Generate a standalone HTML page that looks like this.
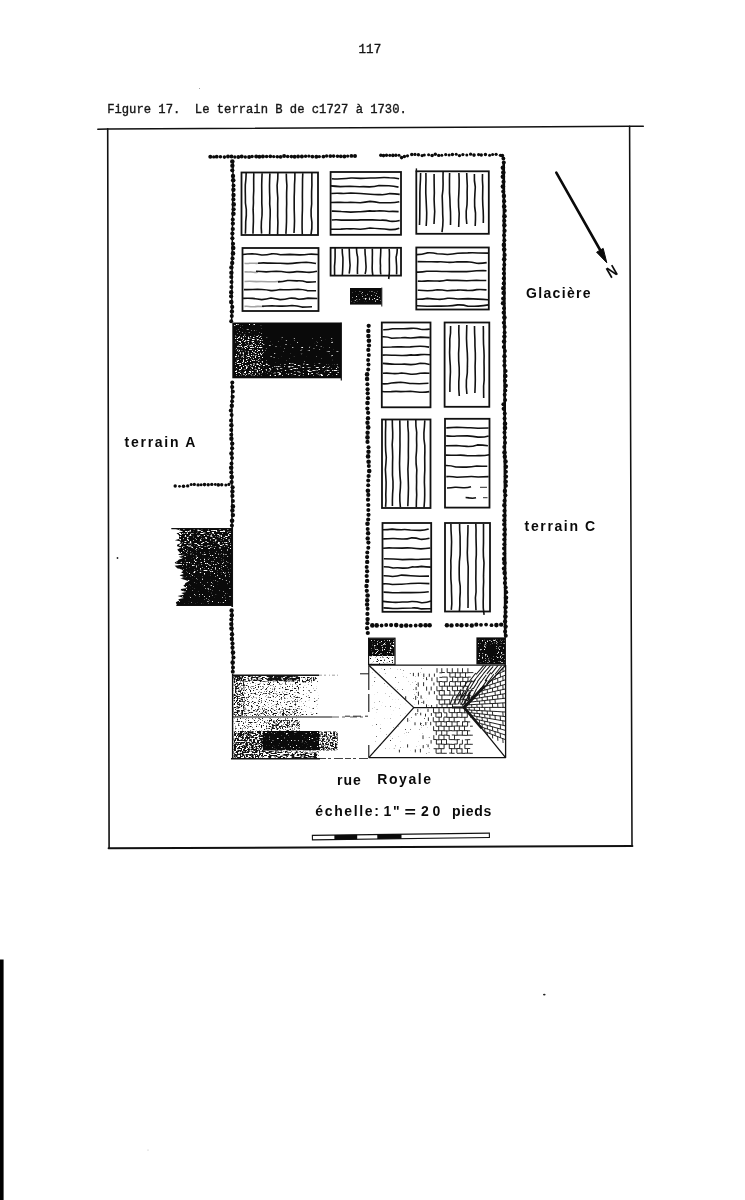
<!DOCTYPE html>
<html lang="fr"><head><meta charset="utf-8"><title>Figure 17. Le terrain B de c1727 à 1730</title>
<style>
html,body{margin:0;padding:0;background:#fff;}
body{width:745px;height:1200px;overflow:hidden;position:relative;font-family:"Liberation Sans",sans-serif;}
svg{position:absolute;left:0;top:0;display:block;filter:blur(.32px);}
text{opacity:.999;}
.tw{font-family:"Liberation Mono",monospace;font-size:13.6px;white-space:pre;fill:#151515;stroke:#151515;stroke-width:.38;}
.lb{font-family:"Liberation Sans",sans-serif;font-size:14px;white-space:pre;font-weight:bold;fill:#0a0a0a;}
</style></head><body>
<svg width="745" height="1200" viewBox="0 0 745 1200">
<defs><filter id="g1" x="0" y="0" width="100%" height="100%" color-interpolation-filters="sRGB"><feTurbulence type="fractalNoise" baseFrequency="0.572 0.875" numOctaves="2" seed="59"/><feColorMatrix type="matrix" values="0 0 0 0 0 0 0 0 0 0 0 0 0 0 0 0 0 0 7 -3.75"/><feComposite in="SourceGraphic" operator="in"/></filter><filter id="g2" x="0" y="0" width="100%" height="100%" color-interpolation-filters="sRGB"><feTurbulence type="fractalNoise" baseFrequency="0.312 0.95" numOctaves="2" seed="60"/><feColorMatrix type="matrix" values="0 0 0 0 0 0 0 0 0 0 0 0 0 0 0 0 0 0 7 -4.08"/><feComposite in="SourceGraphic" operator="in"/></filter><filter id="g3" x="0" y="0" width="100%" height="100%" color-interpolation-filters="sRGB"><feTurbulence type="fractalNoise" baseFrequency="0.26 0.95" numOctaves="2" seed="1"/><feColorMatrix type="matrix" values="0 0 0 0 0 0 0 0 0 0 0 0 0 0 0 0 0 0 7 -4.78"/><feComposite in="SourceGraphic" operator="in"/></filter><filter id="g4" x="0" y="0" width="100%" height="100%" color-interpolation-filters="sRGB"><feTurbulence type="fractalNoise" baseFrequency="0.52 0.875" numOctaves="2" seed="28"/><feColorMatrix type="matrix" values="0 0 0 0 0 0 0 0 0 0 0 0 0 0 0 0 0 0 7 -4.46"/><feComposite in="SourceGraphic" operator="in"/></filter><filter id="g5" x="0" y="0" width="100%" height="100%" color-interpolation-filters="sRGB"><feTurbulence type="fractalNoise" baseFrequency="0.52 0.875" numOctaves="2" seed="90"/><feColorMatrix type="matrix" values="0 0 0 0 0 0 0 0 0 0 0 0 0 0 0 0 0 0 7 -4.28"/><feComposite in="SourceGraphic" operator="in"/></filter><filter id="g6" x="0" y="0" width="100%" height="100%" color-interpolation-filters="sRGB"><feTurbulence type="fractalNoise" baseFrequency="0.39 0.95" numOctaves="2" seed="81"/><feColorMatrix type="matrix" values="0 0 0 0 0 0 0 0 0 0 0 0 0 0 0 0 0 0 7 -3.83"/><feComposite in="SourceGraphic" operator="in"/></filter><filter id="g7" x="0" y="0" width="100%" height="100%" color-interpolation-filters="sRGB"><feTurbulence type="fractalNoise" baseFrequency="0.52 0.875" numOctaves="2" seed="32"/><feColorMatrix type="matrix" values="0 0 0 0 0 0 0 0 0 0 0 0 0 0 0 0 0 0 7 -4.23"/><feComposite in="SourceGraphic" operator="in"/></filter><filter id="g8" x="0" y="0" width="100%" height="100%" color-interpolation-filters="sRGB"><feTurbulence type="fractalNoise" baseFrequency="0.52 0.875" numOctaves="2" seed="32"/><feColorMatrix type="matrix" values="0 0 0 0 0 0 0 0 0 0 0 0 0 0 0 0 0 0 7 -4.65"/><feComposite in="SourceGraphic" operator="in"/></filter><filter id="g9" x="0" y="0" width="100%" height="100%" color-interpolation-filters="sRGB"><feTurbulence type="fractalNoise" baseFrequency="0.62 0.75" numOctaves="2" seed="4"/><feColorMatrix type="matrix" values="0 0 0 0 0 0 0 0 0 0 0 0 0 0 0 0 0 0 7 -4.11"/><feComposite in="SourceGraphic" operator="in"/></filter><filter id="g10" x="0" y="0" width="100%" height="100%" color-interpolation-filters="sRGB"><feTurbulence type="fractalNoise" baseFrequency="0.62 0.75" numOctaves="2" seed="33"/><feColorMatrix type="matrix" values="0 0 0 0 0 0 0 0 0 0 0 0 0 0 0 0 0 0 7 -4.11"/><feComposite in="SourceGraphic" operator="in"/></filter><filter id="g11" x="0" y="0" width="100%" height="100%" color-interpolation-filters="sRGB"><feTurbulence type="fractalNoise" baseFrequency="0.62 0.625" numOctaves="2" seed="70"/><feColorMatrix type="matrix" values="0 0 0 0 0 0 0 0 0 0 0 0 0 0 0 0 0 0 7 -4.08"/><feComposite in="SourceGraphic" operator="in"/></filter><filter id="g12" x="0" y="0" width="100%" height="100%" color-interpolation-filters="sRGB"><feTurbulence type="fractalNoise" baseFrequency="0.62 0.625" numOctaves="2" seed="87"/><feColorMatrix type="matrix" values="0 0 0 0 0 0 0 0 0 0 0 0 0 0 0 0 0 0 7 -3.1"/><feComposite in="SourceGraphic" operator="in"/></filter><filter id="g13" x="0" y="0" width="100%" height="100%" color-interpolation-filters="sRGB"><feTurbulence type="fractalNoise" baseFrequency="0.39 0.75" numOctaves="2" seed="78"/><feColorMatrix type="matrix" values="0 0 0 0 0 0 0 0 0 0 0 0 0 0 0 0 0 0 7 -3.1"/><feComposite in="SourceGraphic" operator="in"/></filter><filter id="g14" x="0" y="0" width="100%" height="100%" color-interpolation-filters="sRGB"><feTurbulence type="fractalNoise" baseFrequency="0.26 0.625" numOctaves="2" seed="8"/><feColorMatrix type="matrix" values="0 0 0 0 0 0 0 0 0 0 0 0 0 0 0 0 0 0 7 -2.54"/><feComposite in="SourceGraphic" operator="in"/></filter><filter id="g15" x="0" y="0" width="100%" height="100%" color-interpolation-filters="sRGB"><feTurbulence type="fractalNoise" baseFrequency="0.62 0.75" numOctaves="2" seed="96"/><feColorMatrix type="matrix" values="0 0 0 0 0 0 0 0 0 0 0 0 0 0 0 0 0 0 7 -3.97"/><feComposite in="SourceGraphic" operator="in"/></filter><filter id="g16" x="0" y="0" width="100%" height="100%" color-interpolation-filters="sRGB"><feTurbulence type="fractalNoise" baseFrequency="0.62 0.75" numOctaves="2" seed="26"/><feColorMatrix type="matrix" values="0 0 0 0 0 0 0 0 0 0 0 0 0 0 0 0 0 0 7 -4.51"/><feComposite in="SourceGraphic" operator="in"/></filter><filter id="g17" x="0" y="0" width="100%" height="100%" color-interpolation-filters="sRGB"><feTurbulence type="fractalNoise" baseFrequency="0.52 0.75" numOctaves="2" seed="43"/><feColorMatrix type="matrix" values="0 0 0 0 0 0 0 0 0 0 0 0 0 0 0 0 0 0 7 -3.32"/><feComposite in="SourceGraphic" operator="in"/></filter><filter id="g18" x="0" y="0" width="100%" height="100%" color-interpolation-filters="sRGB"><feTurbulence type="fractalNoise" baseFrequency="0.52 0.75" numOctaves="2" seed="75"/><feColorMatrix type="matrix" values="0 0 0 0 0 0 0 0 0 0 0 0 0 0 0 0 0 0 7 -3.54"/><feComposite in="SourceGraphic" operator="in"/></filter><filter id="g19" x="0" y="0" width="100%" height="100%" color-interpolation-filters="sRGB"><feTurbulence type="fractalNoise" baseFrequency="0.62 0.75" numOctaves="2" seed="90"/><feColorMatrix type="matrix" values="0 0 0 0 0 0 0 0 0 0 0 0 0 0 0 0 0 0 7 -3.97"/><feComposite in="SourceGraphic" operator="in"/></filter><filter id="g20" x="0" y="0" width="100%" height="100%" color-interpolation-filters="sRGB"><feTurbulence type="fractalNoise" baseFrequency="0.62 0.625" numOctaves="2" seed="16"/><feColorMatrix type="matrix" values="0 0 0 0 0 0 0 0 0 0 0 0 0 0 0 0 0 0 7 -3.42"/><feComposite in="SourceGraphic" operator="in"/></filter><filter id="g21" x="0" y="0" width="100%" height="100%" color-interpolation-filters="sRGB"><feTurbulence type="fractalNoise" baseFrequency="0.52 0.75" numOctaves="2" seed="67"/><feColorMatrix type="matrix" values="0 0 0 0 0 0 0 0 0 0 0 0 0 0 0 0 0 0 7 -2.76"/><feComposite in="SourceGraphic" operator="in"/></filter><filter id="g22" x="0" y="0" width="100%" height="100%" color-interpolation-filters="sRGB"><feTurbulence type="fractalNoise" baseFrequency="0.52 0.875" numOctaves="2" seed="79"/><feColorMatrix type="matrix" values="0 0 0 0 0 0 0 0 0 0 0 0 0 0 0 0 0 0 7 -4.51"/><feComposite in="SourceGraphic" operator="in"/></filter><filter id="g23" x="0" y="0" width="100%" height="100%" color-interpolation-filters="sRGB"><feTurbulence type="fractalNoise" baseFrequency="0.62 0.625" numOctaves="2" seed="61"/><feColorMatrix type="matrix" values="0 0 0 0 0 0 0 0 0 0 0 0 0 0 0 0 0 0 7 -2.94"/><feComposite in="SourceGraphic" operator="in"/></filter><filter id="g24" x="0" y="0" width="100%" height="100%" color-interpolation-filters="sRGB"><feTurbulence type="fractalNoise" baseFrequency="0.312 0.875" numOctaves="2" seed="74"/><feColorMatrix type="matrix" values="0 0 0 0 0 0 0 0 0 0 0 0 0 0 0 0 0 0 7 -2.94"/><feComposite in="SourceGraphic" operator="in"/></filter><filter id="g25" x="0" y="0" width="100%" height="100%" color-interpolation-filters="sRGB"><feTurbulence type="fractalNoise" baseFrequency="0.26 0.75" numOctaves="2" seed="11"/><feColorMatrix type="matrix" values="0 0 0 0 0 0 0 0 0 0 0 0 0 0 0 0 0 0 7 -2.99"/><feComposite in="SourceGraphic" operator="in"/></filter><clipPath id="cTop"><path d="M368.8 665.2 L505.4 665.2 L463.8 707.4 L413.5 707.4 Z"/></clipPath><clipPath id="cBot"><path d="M413.5 707.4 L463.8 707.4 L505.4 757.6 L368.8 757.6 Z"/></clipPath><clipPath id="cRgt"><path d="M505.4 665.2 L505.4 757.6 L463.8 707.4 Z"/></clipPath><filter id="g26" x="0" y="0" width="100%" height="100%" color-interpolation-filters="sRGB"><feTurbulence type="fractalNoise" baseFrequency="0.62 0.75" numOctaves="2" seed="68"/><feColorMatrix type="matrix" values="0 0 0 0 0 0 0 0 0 0 0 0 0 0 0 0 0 0 7 -5.04"/><feComposite in="SourceGraphic" operator="in"/></filter></defs>
<rect x="0" y="0" width="745" height="1200" fill="#fff"/>
<rect x="0" y="959.5" width="3.6" height="241" fill="#000"/>
<text class="tw" x="358.6" y="52.9" textLength="22.6" lengthAdjust="spacingAndGlyphs">117</text>
<text class="tw" x="107.2" y="113.3" xml:space="preserve" textLength="299.6" lengthAdjust="spacingAndGlyphs">Figure 17.  Le terrain B de c1727 à 1730.</text>
<g stroke="#111" fill="none" stroke-linecap="round">
<path d="M97.8 129.2 L107.7 128.9 L629.6 126.3 L643.3 126.3" stroke-width="1.5"/>
<path d="M107.7 128.9 L109.1 848.3" stroke-width="1.6"/>
<path d="M629.6 126.3 L632 846" stroke-width="1.55"/>
<path d="M108.6 848.3 L632.4 846" stroke-width="2"/>
</g>
<g fill="#0b0b0b">
<circle cx="210.3" cy="156.7" r="2"/><circle cx="213.7" cy="156.9" r="1.7"/><circle cx="216.7" cy="156.7" r="1.9"/><circle cx="220.4" cy="156.8" r="1.8"/><circle cx="224.4" cy="157.1" r="1.8"/><circle cx="228" cy="156.4" r="2"/><circle cx="231.5" cy="156.5" r="1.9"/><circle cx="234.8" cy="157" r="1.7"/><circle cx="238.3" cy="157" r="1.9"/><circle cx="241.7" cy="156.4" r="2"/><circle cx="245.3" cy="157" r="1.7"/><circle cx="249.1" cy="156.9" r="2"/><circle cx="252.1" cy="156.5" r="1.7"/><circle cx="256.2" cy="156.5" r="2"/><circle cx="259.4" cy="156.8" r="2"/><circle cx="262.9" cy="156.6" r="2"/><circle cx="266.6" cy="156.5" r="1.8"/><circle cx="270.3" cy="156.3" r="1.9"/><circle cx="273.7" cy="156.6" r="1.7"/><circle cx="277.3" cy="156.8" r="1.8"/><circle cx="280.6" cy="156.8" r="1.9"/><circle cx="284.1" cy="156.1" r="2"/><circle cx="287.7" cy="156.5" r="1.8"/><circle cx="291.4" cy="156.6" r="1.8"/><circle cx="294.6" cy="156.8" r="2"/><circle cx="298.1" cy="156.5" r="1.9"/><circle cx="301.9" cy="156.6" r="2"/><circle cx="305.6" cy="156.3" r="1.7"/><circle cx="308.9" cy="156.1" r="1.7"/><circle cx="312.4" cy="156.6" r="1.9"/><circle cx="316.3" cy="156.7" r="2"/><circle cx="319.3" cy="156.6" r="1.7"/><circle cx="323.4" cy="156.6" r="1.9"/><circle cx="326.6" cy="156" r="1.7"/><circle cx="330.3" cy="156.1" r="1.9"/><circle cx="333.6" cy="156.1" r="1.8"/><circle cx="337.5" cy="156.3" r="1.8"/><circle cx="340.8" cy="156.3" r="1.9"/><circle cx="344.4" cy="156.6" r="2"/><circle cx="347.7" cy="156.1" r="1.7"/><circle cx="351.4" cy="155.9" r="1.9"/><circle cx="355" cy="156.1" r="2"/>
<circle cx="380.8" cy="155.3" r="1.7"/><circle cx="383.5" cy="155.6" r="1.8"/><circle cx="386.5" cy="155.2" r="1.7"/><circle cx="389.8" cy="155.3" r="1.6"/><circle cx="392.9" cy="155.4" r="1.8"/><circle cx="395.9" cy="155.3" r="1.7"/><circle cx="399" cy="155.3" r="1.5"/>
<circle cx="401.6" cy="157.6" r="1.8"/><circle cx="404.4" cy="156.5" r="1.7"/>
<circle cx="407.5" cy="155.8" r="1.6"/><circle cx="411.8" cy="154.5" r="1.8"/><circle cx="415" cy="154.4" r="1.6"/><circle cx="418.4" cy="154.7" r="1.7"/><circle cx="422.1" cy="155.6" r="1.6"/><circle cx="424.3" cy="155.1" r="1.5"/><circle cx="428.6" cy="154.7" r="1.5"/><circle cx="432.1" cy="155.5" r="1.8"/><circle cx="435.3" cy="154.2" r="1.7"/><circle cx="438.7" cy="155.4" r="1.7"/><circle cx="441.8" cy="155.3" r="1.5"/><circle cx="445.7" cy="154.6" r="1.6"/><circle cx="449.1" cy="154.9" r="1.5"/><circle cx="452.4" cy="154.5" r="1.7"/><circle cx="456.2" cy="154.3" r="1.5"/><circle cx="459.5" cy="155.6" r="1.7"/>
<circle cx="462.9" cy="154.6" r="1.6"/><circle cx="466.8" cy="155" r="1.5"/><circle cx="470.6" cy="154.2" r="1.6"/><circle cx="474" cy="155.1" r="1.8"/><circle cx="478.6" cy="154.6" r="1.6"/><circle cx="481.3" cy="155" r="1.7"/><circle cx="485.4" cy="154.5" r="1.7"/><circle cx="489.6" cy="155.2" r="1.5"/><circle cx="492.6" cy="154.4" r="1.5"/><circle cx="496.1" cy="154.3" r="1.6"/><circle cx="500.4" cy="155.3" r="1.6"/>
<circle cx="502.3" cy="155.6" r="1.9"/><circle cx="503.4" cy="158.5" r="1.9"/>
<path d="M503.7 163 L504.3 280 L504.7 400 L505 520 L505.2 635" stroke="#0b0b0b" stroke-width="2.6" fill="none"/>
<path d="M233.1 163 L232.3 240 L231.7 320 M231.8 384 L232 524 M232.2 611 L232.6 671" stroke="#0b0b0b" stroke-width="1.5" fill="none"/>
<circle cx="503.8" cy="162.5" r="2"/><circle cx="502.9" cy="167.7" r="2.3"/><circle cx="503.3" cy="172.5" r="2.3"/><circle cx="502.9" cy="176.8" r="2.3"/><circle cx="503.5" cy="181.8" r="2.1"/><circle cx="502.9" cy="186.6" r="2.3"/><circle cx="503.2" cy="191.4" r="2"/><circle cx="503.9" cy="196" r="2.2"/><circle cx="504.1" cy="201.2" r="2.1"/><circle cx="504.2" cy="206.5" r="2.3"/><circle cx="504.8" cy="210.7" r="2"/><circle cx="504.5" cy="216.2" r="2.3"/><circle cx="504.3" cy="220.8" r="2.1"/><circle cx="504.4" cy="225.2" r="2.2"/><circle cx="504.6" cy="230.8" r="2.1"/><circle cx="504.1" cy="235.3" r="2"/><circle cx="504.4" cy="240.3" r="2"/><circle cx="503.9" cy="244.9" r="2.3"/><circle cx="504.2" cy="249.5" r="2.3"/><circle cx="504.6" cy="254.9" r="2.1"/><circle cx="504.2" cy="259.3" r="2.3"/><circle cx="504.3" cy="264.7" r="2"/><circle cx="503.8" cy="269.1" r="2"/><circle cx="503.9" cy="273.5" r="2"/><circle cx="503.9" cy="278.4" r="2.1"/><circle cx="503.8" cy="283.4" r="2.1"/><circle cx="503.3" cy="288.3" r="2.2"/><circle cx="503.6" cy="292.9" r="2.2"/><circle cx="503.3" cy="298.6" r="2.2"/><circle cx="503.1" cy="303.2" r="2.3"/><circle cx="504" cy="308.2" r="2"/><circle cx="503.7" cy="312.7" r="2.1"/><circle cx="504.4" cy="317.6" r="2.3"/><circle cx="503.8" cy="322.8" r="2"/><circle cx="504.5" cy="326.9" r="2.1"/><circle cx="504.6" cy="332.6" r="2"/><circle cx="504.4" cy="336.6" r="2.2"/><circle cx="504.1" cy="341.5" r="2.3"/><circle cx="503.9" cy="347.1" r="2.1"/><circle cx="504.9" cy="351.1" r="2"/><circle cx="504.5" cy="356.2" r="2.2"/><circle cx="504.5" cy="361.1" r="2"/><circle cx="504.5" cy="365.6" r="2.1"/><circle cx="505.5" cy="371" r="2.1"/><circle cx="505.3" cy="376" r="2.3"/><circle cx="505" cy="380.8" r="2.1"/><circle cx="505.7" cy="385.7" r="2.2"/><circle cx="505.3" cy="390.6" r="2"/><circle cx="504.7" cy="394.7" r="2"/><circle cx="505.1" cy="400.1" r="2"/>
<circle cx="503.5" cy="404.3" r="2.1"/><circle cx="503.7" cy="408.8" r="2.1"/><circle cx="504.7" cy="413.4" r="2"/><circle cx="504.6" cy="418.4" r="2"/><circle cx="505" cy="423.7" r="2.3"/><circle cx="505" cy="428.1" r="2.3"/><circle cx="504.5" cy="432.6" r="2"/><circle cx="504.8" cy="437.5" r="2.1"/><circle cx="505" cy="442.8" r="2"/><circle cx="504.3" cy="447" r="2"/><circle cx="504.5" cy="452.5" r="2.3"/><circle cx="504.8" cy="456.7" r="2.2"/><circle cx="505.6" cy="461.5" r="2.2"/><circle cx="505.9" cy="466.7" r="2.2"/><circle cx="505.9" cy="471.8" r="2"/><circle cx="505.9" cy="476.6" r="2.2"/><circle cx="505.7" cy="481.7" r="2.2"/><circle cx="505.9" cy="485.8" r="2"/><circle cx="504.9" cy="491" r="2.2"/><circle cx="505.4" cy="495.3" r="2"/><circle cx="504.6" cy="500.8" r="2.1"/><circle cx="504.3" cy="505.2" r="2.2"/><circle cx="504.5" cy="510.8" r="2.1"/><circle cx="504.4" cy="515.6" r="2.2"/><circle cx="504.3" cy="520.2" r="2.1"/><circle cx="504.2" cy="524.4" r="2.1"/><circle cx="504.6" cy="529.4" r="2.2"/><circle cx="504.5" cy="534.5" r="2.2"/><circle cx="504.3" cy="539.6" r="2.1"/><circle cx="504.3" cy="544.2" r="2"/><circle cx="504" cy="548.6" r="2"/><circle cx="504.2" cy="553.7" r="2"/><circle cx="504" cy="559" r="2.2"/><circle cx="504.4" cy="563" r="2.3"/><circle cx="504" cy="568.6" r="2.2"/><circle cx="504.6" cy="573" r="2.2"/><circle cx="505.1" cy="578.3" r="2"/><circle cx="504.9" cy="583" r="2.1"/><circle cx="505.7" cy="587.5" r="2"/><circle cx="506.1" cy="592.2" r="2.1"/><circle cx="506" cy="597.7" r="2.3"/><circle cx="506.2" cy="602" r="2"/><circle cx="505.6" cy="607.3" r="2.2"/><circle cx="505.6" cy="612" r="2"/><circle cx="505.4" cy="616.6" r="2.3"/><circle cx="505.1" cy="621.5" r="2.2"/><circle cx="505.6" cy="626.6" r="2.2"/><circle cx="505.1" cy="631.6" r="2"/><circle cx="505.8" cy="635.8" r="2"/>
<circle cx="232.3" cy="161.5" r="2.3"/><circle cx="232.4" cy="165.8" r="2.2"/><circle cx="232.3" cy="170.3" r="2.1"/><circle cx="233" cy="176" r="2.2"/><circle cx="233.2" cy="180.3" r="2.3"/><circle cx="233.5" cy="185.6" r="2"/><circle cx="233.4" cy="189.7" r="2.2"/><circle cx="233.5" cy="195" r="2.2"/><circle cx="233.4" cy="199.4" r="2.1"/><circle cx="233.7" cy="204.4" r="2.3"/><circle cx="233.6" cy="209.3" r="2.1"/><circle cx="233.4" cy="213.8" r="2.3"/><circle cx="232.8" cy="219.4" r="2"/><circle cx="232.9" cy="223.6" r="2.1"/><circle cx="232.8" cy="229" r="2.1"/><circle cx="232.4" cy="233.6" r="2.1"/><circle cx="232.4" cy="238.3" r="2.1"/><circle cx="233" cy="243.8" r="2.1"/><circle cx="233.2" cy="248.1" r="2.3"/><circle cx="233" cy="253.4" r="2.3"/><circle cx="232.5" cy="258.4" r="2.1"/><circle cx="232.2" cy="262.9" r="2.2"/><circle cx="231.4" cy="267.4" r="2.2"/><circle cx="231.4" cy="272.7" r="2.2"/><circle cx="231.3" cy="277" r="2.1"/><circle cx="231.5" cy="282" r="2"/><circle cx="231.4" cy="286.9" r="2"/><circle cx="231.2" cy="292.3" r="2.2"/><circle cx="231.1" cy="296.3" r="2.1"/><circle cx="231.3" cy="302.1" r="2.3"/><circle cx="232.2" cy="306.9" r="2.1"/><circle cx="231.9" cy="311.4" r="2.2"/><circle cx="231.8" cy="315.9" r="2"/><circle cx="231.2" cy="321.2" r="2"/>
<circle cx="232.3" cy="382.4" r="2"/><circle cx="232.2" cy="387.1" r="2.1"/><circle cx="232.8" cy="391.5" r="2"/><circle cx="232.6" cy="396.8" r="2.1"/><circle cx="232.1" cy="401.2" r="2"/><circle cx="231.8" cy="405.8" r="2.2"/><circle cx="230.8" cy="410.5" r="2"/><circle cx="231.6" cy="414.9" r="2"/><circle cx="231" cy="420.5" r="2"/><circle cx="231.4" cy="425.2" r="2.2"/><circle cx="231.2" cy="429.9" r="2"/><circle cx="231.3" cy="434.8" r="2"/><circle cx="231.4" cy="438.8" r="2.2"/><circle cx="232.2" cy="443.6" r="2.2"/><circle cx="232.1" cy="448.3" r="2.1"/><circle cx="231.5" cy="453.6" r="2.3"/><circle cx="232" cy="458.1" r="2"/><circle cx="231.5" cy="463.5" r="2"/><circle cx="231.2" cy="467.7" r="2.3"/><circle cx="231.3" cy="472.3" r="2.1"/><circle cx="231.7" cy="477.1" r="2.3"/><circle cx="231.6" cy="482.1" r="2.1"/><circle cx="232.6" cy="487.3" r="2.1"/><circle cx="232.4" cy="491.5" r="2.2"/><circle cx="232.4" cy="495.9" r="2.1"/><circle cx="232.9" cy="501" r="2"/><circle cx="232.9" cy="506.4" r="2.3"/><circle cx="232.4" cy="510.4" r="2.2"/><circle cx="232.9" cy="515.1" r="2.2"/><circle cx="232.1" cy="520.7" r="2.3"/><circle cx="231.9" cy="525.5" r="2"/>
<circle cx="231.6" cy="610.5" r="2.2"/><circle cx="231.8" cy="615.2" r="2.2"/><circle cx="231.4" cy="619.5" r="2.1"/><circle cx="231.3" cy="624.1" r="2.2"/><circle cx="231.5" cy="628.6" r="2.3"/><circle cx="232" cy="634.3" r="2.2"/><circle cx="231.9" cy="638.9" r="2.2"/><circle cx="232.5" cy="643.5" r="2.1"/><circle cx="232.5" cy="647.7" r="2.1"/><circle cx="233" cy="652.6" r="2.3"/><circle cx="233.5" cy="657.5" r="2"/><circle cx="232.7" cy="662.6" r="2.3"/><circle cx="233" cy="667.5" r="2"/><circle cx="232.8" cy="671.7" r="2"/>
<circle cx="175.2" cy="486" r="1.7"/><circle cx="179.5" cy="486.3" r="1.4"/><circle cx="183.5" cy="486.2" r="1.8"/><circle cx="187.7" cy="485.9" r="1.7"/>
<circle cx="191.2" cy="484.5" r="1.5"/><circle cx="194.3" cy="484.4" r="1.6"/><circle cx="198.1" cy="484.9" r="1.7"/><circle cx="201.1" cy="484.8" r="1.5"/><circle cx="204.5" cy="484.6" r="1.8"/><circle cx="208.2" cy="484.8" r="1.7"/><circle cx="211.8" cy="484.4" r="1.7"/><circle cx="215.3" cy="484.5" r="1.4"/><circle cx="218.3" cy="484.9" r="1.8"/><circle cx="221.7" cy="484.7" r="1.7"/><circle cx="225.8" cy="485" r="1.5"/><circle cx="228.9" cy="484.4" r="1.6"/>
<circle cx="368.7" cy="325.8" r="2.1"/><circle cx="368.3" cy="330.9" r="2.2"/><circle cx="368.4" cy="336" r="2.2"/><circle cx="368.9" cy="340.8" r="2.3"/><circle cx="369" cy="345.5" r="2.1"/><circle cx="368.3" cy="349.9" r="2.1"/><circle cx="368.8" cy="355" r="2"/><circle cx="368.1" cy="359.9" r="2"/><circle cx="368.5" cy="364.5" r="2"/><circle cx="368.2" cy="369.5" r="2"/><circle cx="367.1" cy="374.4" r="2.3"/><circle cx="367.1" cy="379" r="2.3"/><circle cx="367.4" cy="384.3" r="2"/><circle cx="367.6" cy="389.3" r="2.1"/><circle cx="367.7" cy="393.3" r="2.1"/><circle cx="368" cy="398.2" r="2.1"/><circle cx="367.5" cy="403" r="2.3"/><circle cx="367.4" cy="408.6" r="2.1"/><circle cx="368.1" cy="412.8" r="2.1"/><circle cx="368" cy="418.3" r="2.2"/><circle cx="367.5" cy="422.8" r="2.2"/><circle cx="368.2" cy="427.4" r="2.3"/><circle cx="367.6" cy="432.8" r="2.2"/><circle cx="367.5" cy="437.4" r="2.3"/><circle cx="367.5" cy="441.9" r="2.1"/><circle cx="368.5" cy="447.2" r="2"/><circle cx="368.5" cy="451.8" r="2.2"/><circle cx="368.1" cy="456.4" r="2.3"/><circle cx="368.6" cy="461.8" r="2.3"/><circle cx="368.8" cy="465.9" r="2"/><circle cx="369.2" cy="471.1" r="2.3"/><circle cx="368.6" cy="476" r="2.1"/><circle cx="368.2" cy="480.6" r="2"/><circle cx="368.2" cy="485.3" r="2"/><circle cx="367.9" cy="490.7" r="2.3"/><circle cx="368.3" cy="494.9" r="2.1"/><circle cx="368" cy="499.7" r="2.1"/>
<circle cx="368.3" cy="505" r="2.1"/><circle cx="368.3" cy="510.1" r="2"/><circle cx="368.5" cy="514.8" r="2.1"/><circle cx="368.2" cy="519.5" r="2.1"/><circle cx="367.5" cy="523.7" r="2.3"/><circle cx="367.7" cy="529" r="2"/><circle cx="368.1" cy="533.2" r="2.2"/><circle cx="367.7" cy="538.4" r="2.2"/><circle cx="368.4" cy="542.6" r="2.1"/><circle cx="368.3" cy="547.8" r="2"/><circle cx="367.3" cy="552.5" r="2"/><circle cx="367.1" cy="557.1" r="2.1"/><circle cx="367.2" cy="561.9" r="2.2"/><circle cx="366.7" cy="567.1" r="2"/><circle cx="367.1" cy="571.3" r="2.1"/><circle cx="366.7" cy="576" r="2.1"/><circle cx="367.1" cy="580.9" r="2.2"/><circle cx="366.5" cy="586" r="2.2"/><circle cx="366.8" cy="590.8" r="2.1"/><circle cx="367.6" cy="595.5" r="2.3"/><circle cx="367.2" cy="600.3" r="2.2"/><circle cx="367.1" cy="604.5" r="2.2"/><circle cx="367.6" cy="608.8" r="2"/><circle cx="367.4" cy="613.9" r="2.1"/><circle cx="367.6" cy="619.1" r="2.2"/><circle cx="367.4" cy="623.2" r="2.1"/><circle cx="367.1" cy="628.2" r="2.1"/><circle cx="367.8" cy="633" r="2.1"/>
<circle cx="372.3" cy="625.4" r="2.3"/><circle cx="376.7" cy="625.4" r="2.3"/><circle cx="381.6" cy="625.5" r="1.9"/><circle cx="386.2" cy="625" r="2"/><circle cx="391.1" cy="625.1" r="2.1"/><circle cx="396.2" cy="625.1" r="2.3"/><circle cx="401.4" cy="625.7" r="2.2"/><circle cx="406.2" cy="625.5" r="2.3"/><circle cx="410.7" cy="625.7" r="1.9"/><circle cx="415.7" cy="625.5" r="1.9"/><circle cx="420.6" cy="625.3" r="2.3"/><circle cx="425.6" cy="625.3" r="2.3"/><circle cx="429.7" cy="625.2" r="2.2"/>
<circle cx="446.9" cy="625.3" r="2.2"/><circle cx="451.5" cy="625.4" r="2.2"/><circle cx="457" cy="624.9" r="2"/><circle cx="461.5" cy="625.2" r="2.2"/><circle cx="466.7" cy="625.1" r="2.1"/><circle cx="471.8" cy="625.5" r="2.2"/><circle cx="476.3" cy="624.7" r="2.1"/><circle cx="481" cy="624.8" r="1.9"/><circle cx="486.1" cy="624.6" r="1.9"/><circle cx="491.5" cy="625.2" r="1.9"/><circle cx="496.4" cy="625.1" r="2.3"/><circle cx="501.2" cy="624.6" r="2.2"/>
</g>
<g fill="none" stroke="#111">
<rect x="241.5" y="172.5" width="76.5" height="62.5" stroke-width="1.8"/>
<path d="M246.2 172.6 Q246.1 178.7 245.3 184.8 Q245.2 191 245.4 197.1 Q245 203.2 246.3 209.3 Q246.6 215.5 245.7 221.6 Q245.7 227.7 245.4 233.8" stroke-width="1.6"/>
<path d="M253.8 173.1 Q253.6 179.2 253.7 185.2 Q253.9 191.3 253.4 197.3 Q253.7 203.4 253.1 209.4 Q253.5 215.5 253.4 221.6 Q253.1 227.6 253 233.7" stroke-width="1.6"/>
<path d="M262.1 173.2 Q261.8 179.3 261.7 185.3 Q261.8 191.3 261.8 197.4 Q261.6 203.4 262.1 209.4 Q262.3 215.5 261.4 221.5 Q261 227.5 261.6 233.6" stroke-width="1.6"/>
<path d="M269.9 173.4 Q269.6 179.5 269.5 185.5 Q269.5 191.6 269.8 197.6 Q269.4 203.7 270.2 209.8 Q270.3 215.8 269.9 221.9 Q269.9 227.9 269.6 234" stroke-width="1.6"/>
<path d="M277.9 173.1 Q278 179.2 277.1 185.4 Q277.2 191.6 277.8 197.8 Q277.6 203.9 277.7 210.1 Q277.5 216.3 277.9 222.4 Q277.7 228.6 277.6 234.8" stroke-width="1.6"/>
<path d="M286.3 173.4 Q286.3 179.4 286.9 185.5 Q286.6 191.5 286.6 197.6 Q286.8 203.6 286.5 209.7 Q286.6 215.8 286.5 221.8 Q286.3 227.9 285.9 233.9" stroke-width="1.6"/>
<path d="M294.9 172.9 Q295 178.9 294.5 184.9 Q294.5 190.9 294.2 197 Q294.2 203 294.2 209 Q294.4 215 294.5 221 Q294.4 227 294 233" stroke-width="1.6"/>
<path d="M302.8 173.3 Q302.4 179.4 302.5 185.6 Q302.4 191.7 302.4 197.8 Q302.5 203.9 302.4 210 Q302.1 216.2 302.1 222.3 Q302 228.4 302.3 234.5" stroke-width="1.6"/>
<path d="M311.9 172.7 Q311.8 178.9 311.9 185.1 Q311.5 191.3 311.6 197.5 Q312 203.7 311.1 209.9 Q310.8 216.1 311.9 222.3 Q312.2 228.5 311 234.7" stroke-width="1.6"/>
</g>
<g fill="none" stroke="#111">
<rect x="330.6" y="172" width="70.4" height="62.8" stroke-width="1.8"/>
<path d="M331.8 178.7 Q336.6 179.1 341.4 178.8 Q346.2 178.6 351 178 Q355.8 177.9 360.6 178.4 Q365.5 178.4 370.3 178 Q375.1 177.9 379.9 177.7 Q384.7 177.4 389.5 177.8 Q394.3 177.8 399.1 178.7" stroke-width="1.6"/>
<path d="M330.6 185.9 Q335.5 186.3 340.3 186.6 Q345.2 186.4 350 186.3 Q354.9 186.4 359.7 186.7 Q364.6 186.4 369.4 186.9 Q374.3 186.9 379.1 185.5 Q384 185.6 388.8 185.7 Q393.7 185.9 398.5 187.1" stroke-width="1.6"/>
<path d="M331.2 193.5 Q336.1 193.2 341 193.4 Q345.9 193.6 350.8 193 Q355.7 193.3 360.5 193.5 Q365.4 193.9 370.3 194.3 Q375.2 194.7 380.1 194.6 Q385 195 389.9 193.6 Q394.8 193.9 399.7 194.4" stroke-width="1.6"/>
<path d="M330.9 202.5 Q335.8 202.3 340.6 202.4 Q345.5 202.6 350.4 202.3 Q355.3 202.3 360.2 202.7 Q365.1 202.2 370 201.4 Q374.8 201.8 379.7 202.8 Q384.6 202.7 389.5 202.8 Q394.4 202.9 399.3 201.7" stroke-width="1.6"/>
<path d="M331.7 211.1 Q336.5 211 341.3 211.5 Q346 211.8 350.8 212.1 Q355.6 211.6 360.4 211.7 Q365.1 211.7 369.9 210.9 Q374.7 211.4 379.5 210.8 Q384.2 210.8 389 211.5 Q393.8 211.3 398.6 211.6" stroke-width="1.6"/>
<path d="M331.7 220 Q336.6 219.5 341.4 220.1 Q346.3 220.2 351.1 220.1 Q356 220.3 360.8 219.9 Q365.7 219.9 370.5 219.9 Q375.4 219.8 380.3 220.2 Q385.1 219.7 390 221.3 Q394.8 221.6 399.7 220.5" stroke-width="1.6"/>
<path d="M331 229.2 Q335.9 229.4 340.8 229.1 Q345.7 228.6 350.5 228.9 Q355.4 228.6 360.3 229.2 Q365.2 228.7 370 228 Q374.9 228.4 379.8 228.7 Q384.6 228.9 389.5 229.6 Q394.4 230 399.3 228.2" stroke-width="1.6"/>
</g>
<g fill="none" stroke="#111">
<rect x="416.3" y="171.3" width="72.5" height="62.5" stroke-width="1.8"/>
<path d="M420.6 173 Q420.6 179.5 420.1 186 Q419.8 192.5 419.9 199 Q419.9 205.5 419.8 212 Q419.8 218.5 419.5 225" stroke-width="1.6"/>
<path d="M425.9 173 Q426.1 179.6 425.8 186.2 Q425.6 192.9 426.1 199.5 Q426.4 206.1 426.7 212.8 Q426.7 219.4 426.2 226" stroke-width="1.6"/>
<path d="M434.1 174 Q434.1 180.2 434.2 186.5 Q434.5 192.8 434.1 199 Q434.3 205.2 434.7 211.5 Q434.3 217.8 434 224" stroke-width="1.6"/>
<path d="M443.1 171.8 Q442.9 177.8 443.1 183.8 Q443.2 189.8 442.2 195.9 Q442.4 201.9 442.6 207.9 Q442.6 214 443 220 Q443 226 442 232.1" stroke-width="1.6"/>
<path d="M449.6 173 Q449.4 179.5 449.5 186 Q449.3 192.5 449.9 199 Q450 205.5 450.5 212 Q450.7 218.5 450.5 225" stroke-width="1.6"/>
<path d="M458.9 173 Q459.3 179.8 459.1 186.5 Q458.9 193.2 458.5 200 Q458.4 206.8 459.2 213.5 Q458.9 220.2 458.7 227" stroke-width="1.6"/>
<path d="M466.7 173 Q466.9 179.4 467.3 185.8 Q467 192.1 467.2 198.5 Q467.3 204.9 466.2 211.2 Q466 217.6 466.8 224" stroke-width="1.6"/>
<path d="M474.4 174 Q474 180.5 475.3 187 Q474.9 193.5 474.6 200 Q474.3 206.5 475.5 213 Q475.6 219.5 475.2 226" stroke-width="1.6"/>
<path d="M482.5 174 Q482.2 180.1 482.8 186.2 Q482.7 192.4 482.6 198.5 Q482.7 204.6 483.2 210.8 Q483.5 216.9 483.3 223" stroke-width="1.6"/>
</g>
<path d="M416.4 168.4 V172" stroke="#111" stroke-width="1.4"/>
<g fill="none" stroke="#111">
<rect x="242.5" y="248" width="76" height="63" stroke-width="1.8"/>
<path d="M242.8 254.5 Q247.5 254 252.2 253.7 Q256.9 254 261.6 255 Q266.3 255.2 271 253.9 Q275.7 253.5 280.4 254.8 Q285.1 254.8 289.8 254.4 Q294.5 254.4 299.2 254.9 Q303.9 255 308.6 254.2 Q313.3 254 318 254.5" stroke-width="1.6"/>
<g opacity=".38">
<path d="M244.5 263.3 Q247.1 263.8 249.7 263.2 Q252.2 263.2 254.8 263.3 Q257.4 263.6 260 263" stroke-width="1.6"/>
</g>
<path d="M258 263.2 Q262.8 262.7 267.7 263.1 Q272.5 263 277.3 263.3 Q282.2 263.1 287 263.6 Q291.8 263.7 296.7 262.9 Q301.5 262.6 306.3 262.2 Q311.2 262.3 316 263.6" stroke-width="1.6"/>
<g opacity=".38">
<path d="M244.5 271.9 Q246.8 271.8 249 272 Q251.2 271.6 253.5 272.3 Q255.8 272.6 258 271.9" stroke-width="1.6"/>
</g>
<path d="M256 271.3 Q261.1 271.7 266.2 271.9 Q271.2 271.7 276.3 271.3 Q281.4 271.5 286.5 272.3 Q291.6 272.7 296.7 271.6 Q301.8 271.5 306.8 272.3 Q311.9 272.7 317 271.3" stroke-width="1.6"/>
<g opacity=".38">
<path d="M244.5 281.5 Q250.4 281.1 256.3 281.6 Q262.2 281.4 268.2 281.7 Q274.1 281.8 280 281.2" stroke-width="1.6"/>
</g>
<path d="M278 281.9 Q282.8 281.7 287.5 280.5 Q292.2 280.3 297 280.9 Q301.8 280.5 306.5 282.1 Q311.2 282.3 316 281.7" stroke-width="1.6"/>
<path d="M243.9 289.6 Q248.4 289.7 252.9 289.5 Q257.4 289.3 262 289.5 Q266.5 289.7 271 290.6 Q275.5 290.8 280 289.6 Q284.5 289.9 289 289.8 Q293.6 289.5 298.1 289.3 Q302.6 289.4 307.1 290.6 Q311.6 290.7 316.1 290.7" stroke-width="1.6"/>
<path d="M243.1 298.4 Q247.7 298 252.4 298.4 Q257 298.8 261.7 299.6 Q266.3 299.1 271 298 Q275.6 298.5 280.2 299.6 Q284.9 299.3 289.5 298.2 Q294.2 297.8 298.8 299.3 Q303.5 298.9 308.1 298.1 Q312.8 298.3 317.4 298.5" stroke-width="1.6"/>
<g opacity=".38">
<path d="M244.5 306.4 Q247.8 306.1 251 306.8 Q254.2 306.9 257.5 306.4 Q260.8 306.5 264 306.5" stroke-width="1.6"/>
</g>
<path d="M262 306.3 Q267 305.8 272 305.8 Q277 306.3 282 306.1 Q287 306.1 292 305.5 Q297 305.8 302 307.1 Q307 306.8 312 306.7" stroke-width="1.6"/>
</g>
<g fill="none" stroke="#111">
<rect x="330.6" y="247.8" width="70.4" height="27.8" stroke-width="1.8"/>
<path d="M335.1 248 Q335.1 252.6 335.1 257.2 Q335 261.8 334.5 266.3 Q334.6 270.9 334.6 275.5" stroke-width="1.6"/>
<path d="M342.2 248.7 Q342.2 253.2 342.9 257.6 Q343 262.1 342.8 266.5 Q342.7 271 342.3 275.5" stroke-width="1.6"/>
<path d="M349.2 248.2 Q349.4 252.4 349.5 256.7 Q349.7 260.9 350.1 265.2 Q349.8 269.5 349.2 273.7" stroke-width="1.6"/>
<path d="M356.6 247.9 Q356.3 252.3 357.6 256.7 Q357.9 261 357.6 265.4 Q357.3 269.7 357.5 274.1" stroke-width="1.6"/>
<path d="M365 248.7 Q364.9 252.9 365.5 257.1 Q365.6 261.4 366 265.6 Q366.3 269.8 365.1 274" stroke-width="1.6"/>
<path d="M372.3 248.6 Q372.5 253.1 372.3 257.5 Q372.4 261.9 372.2 266.3 Q372 270.8 372.8 275.2" stroke-width="1.6"/>
<path d="M380.8 247.9 Q380.8 252.3 380.5 256.8 Q380.1 261.2 380.5 265.7 Q380.2 270.1 380.8 274.5" stroke-width="1.6"/>
<path d="M389.2 249 Q389.6 254 389.3 259 Q389.4 264 389.4 269 Q389.5 274 388.7 279" stroke-width="1.6"/>
<path d="M397.2 248.5 Q397.4 252.8 396.1 257.1 Q396.2 261.5 396.6 265.8 Q396.7 270.1 396.6 274.4" stroke-width="1.6"/>
</g>
<g fill="none" stroke="#111">
<rect x="416.3" y="247.5" width="72.5" height="62" stroke-width="1.8"/>
<path d="M416.7 254.6 Q421.9 254.5 427 252.9 Q432.1 252.5 437.2 253.7 Q442.3 253.8 447.4 254.5 Q452.5 254.1 457.6 253.2 Q462.7 252.9 467.8 252.9 Q473 252.5 478.1 253 Q483.2 253 488.3 253.1" stroke-width="1.6"/>
<path d="M417.5 261.6 Q422.5 261.7 427.4 261.8 Q432.4 261.6 437.3 261.9 Q442.2 261.5 447.2 262.3 Q452.1 262.5 457.1 261.8 Q462 261.9 466.9 261.8 Q471.9 262 476.8 263.3 Q481.8 263.5 486.7 262.6" stroke-width="1.6"/>
<path d="M416.7 272.1 Q421.7 272.3 426.7 271.3 Q431.7 271.3 436.7 271.2 Q441.6 271.5 446.6 271.5 Q451.6 271.8 456.6 271.5 Q461.6 271.7 466.6 271.6 Q471.5 271.6 476.5 270.8 Q481.5 270.6 486.5 270.7" stroke-width="1.6"/>
<path d="M417.8 281.1 Q422.7 281.5 427.6 280.9 Q432.5 281.1 437.4 281 Q442.3 281.4 447.2 280.1 Q452.1 280.5 457 280.4 Q461.9 280.4 466.8 280.7 Q471.7 280.5 476.5 280.2 Q481.4 280.6 486.3 280.5" stroke-width="1.6"/>
<path d="M417.7 290.3 Q422.6 290.2 427.5 290.8 Q432.4 290.8 437.3 289.8 Q442.2 289.8 447.2 290.7 Q452.1 290.2 457 290.1 Q461.9 289.8 466.8 290.4 Q471.7 290.7 476.7 289.6 Q481.6 289.3 486.5 289.9" stroke-width="1.6"/>
<path d="M417.1 299.3 Q422.2 299.4 427.3 298.4 Q432.4 298.9 437.5 299.3 Q442.5 299.7 447.6 298.3 Q452.7 298.1 457.8 299 Q462.9 298.9 468 298.6 Q473.1 299 478.2 299.1 Q483.2 299.3 488.3 299.7" stroke-width="1.6"/>
<path d="M416.8 305.8 Q422 306.1 427.1 306.3 Q432.2 306.1 437.3 306.1 Q442.4 306.2 447.5 306 Q452.6 306 457.7 304.9 Q462.9 304.6 468 306.3 Q473.1 306.4 478.2 306.1 Q483.3 305.7 488.4 304.9" stroke-width="1.6"/>
</g>
<g fill="none" stroke="#111">
<rect x="381.8" y="322.5" width="48.7" height="84.8" stroke-width="1.8"/>
<path d="M383.2 329.7 Q387.9 329.8 392.5 328.7 Q397.2 328.7 401.9 328.7 Q406.5 328.8 411.2 328.4 Q415.8 328 420.5 329.3 Q425.2 329.8 429.8 329.1" stroke-width="1.6"/>
<path d="M382.2 336.8 Q387 336.5 391.7 338.3 Q396.5 337.9 401.2 337.8 Q406 337.4 410.7 338 Q415.5 337.5 420.2 337.1 Q425 337.3 429.7 337.6" stroke-width="1.6"/>
<path d="M382.2 347.3 Q386.9 347 391.6 347 Q396.3 346.8 401 346.9 Q405.7 347.1 410.3 346.9 Q415 346.4 419.7 346.2 Q424.4 346.1 429.1 347.1" stroke-width="1.6"/>
<path d="M382.4 355.1 Q387.2 354.8 391.9 355.3 Q396.7 355.1 401.5 355.5 Q406.3 355.6 411.1 354.9 Q415.9 355.4 420.7 354.6 Q425.4 354.4 430.2 354.7" stroke-width="1.6"/>
<path d="M382.7 363.4 Q387.4 363.8 392.1 364.1 Q396.8 364.4 401.5 364.2 Q406.2 363.9 410.9 364.6 Q415.6 364.5 420.3 363.3 Q425 363.4 429.7 364.5" stroke-width="1.6"/>
<path d="M382.9 373.3 Q387.6 372.9 392.2 373.5 Q396.9 373.8 401.5 373 Q406.2 373.5 410.9 374.2 Q415.5 374.4 420.2 373.2 Q424.9 373.1 429.5 373.2" stroke-width="1.6"/>
<path d="M382.1 383.8 Q386.7 384.1 391.4 383 Q396 382.7 400.7 382.3 Q405.3 382.6 409.9 383.5 Q414.6 383.3 419.2 383.8 Q423.9 383.4 428.5 383.2" stroke-width="1.6"/>
<path d="M381.8 391.5 Q386.6 391.9 391.3 391.6 Q396 391.1 400.8 391.6 Q405.5 391.6 410.3 391.3 Q415 391.8 419.8 392.2 Q424.5 392.6 429.3 391.6" stroke-width="1.6"/>
</g>
<g fill="none" stroke="#111">
<rect x="444.6" y="322.5" width="44.7" height="84.3" stroke-width="1.8"/>
<path d="M450.6 326 Q450.9 332.6 449.8 339.2 Q449.9 345.8 449.6 352.4 Q449.7 359 450.3 365.6 Q450.7 372.2 450.1 378.8 Q449.8 385.4 449.9 392" stroke-width="1.6"/>
<path d="M458.9 325 Q458.6 332.1 459.1 339.2 Q459.2 346.3 458.6 353.4 Q458.5 360.5 459.2 367.6 Q459.5 374.7 458.8 381.8 Q458.6 388.9 459.3 396" stroke-width="1.6"/>
<path d="M466.8 325 Q466.6 331.9 466.5 338.8 Q466.7 345.7 467.3 352.6 Q467.7 359.5 467.4 366.4 Q467.7 373.3 466.4 380.2 Q466 387.1 466.9 394" stroke-width="1.6"/>
<path d="M474.5 326 Q474.5 332.7 474.9 339.4 Q474.8 346.1 475.3 352.8 Q475.5 359.5 475.1 366.2 Q475.2 372.9 475.3 379.6 Q475.2 386.3 474.9 393" stroke-width="1.6"/>
<path d="M483.3 326 Q483.5 332 483.4 338 Q483.4 344 483.9 350 Q484.3 356 484 362 Q484.2 368 484.1 374 Q484.5 380 483.6 386 Q483.6 392 483.7 398" stroke-width="1.6"/>
</g>
<g fill="none" stroke="#111">
<rect x="382" y="419.5" width="48.5" height="88.5" stroke-width="1.8"/>
<path d="M385.7 420 Q385.8 426.2 385.5 432.4 Q385.5 438.6 385.5 444.8 Q385.5 451 386.3 457.3 Q386 463.5 385.4 469.7 Q385.8 475.9 386.1 482.1 Q386.1 488.3 385.8 494.5 Q386.2 500.7 385.6 506.9" stroke-width="1.6"/>
<path d="M392.3 419.9 Q392.3 426.1 392.7 432.3 Q392.9 438.4 392.2 444.6 Q392.6 450.7 392.7 456.9 Q392.5 463 392.5 469.2 Q392.2 475.3 393 481.5 Q393.2 487.7 392.6 493.8 Q392.3 500 392.4 506.1" stroke-width="1.6"/>
<path d="M399.8 420.2 Q399.9 426.4 400 432.6 Q399.9 438.8 400 445 Q399.9 451.2 399.7 457.4 Q399.4 463.6 399.7 469.8 Q399.9 476.1 400.6 482.3 Q400.5 488.5 399.8 494.7 Q399.6 500.9 400.4 507.1" stroke-width="1.6"/>
<path d="M407.8 420.4 Q407.6 426.5 408.4 432.6 Q408.5 438.8 408.4 444.9 Q408.3 451 408.4 457.2 Q408.3 463.3 407.9 469.4 Q408.1 475.5 408.3 481.7 Q408.6 487.8 408.3 493.9 Q408.1 500.1 407.8 506.2" stroke-width="1.6"/>
<path d="M415.8 419.9 Q415.6 426.1 416.7 432.4 Q416.4 438.6 416.7 444.9 Q416.7 451.1 416 457.3 Q415.8 463.6 416.8 469.8 Q416.4 476.1 416.6 482.3 Q416.3 488.6 416.7 494.8 Q416.3 501.1 416.3 507.3" stroke-width="1.6"/>
<path d="M424.8 420.4 Q424.5 426.7 423.9 432.9 Q423.6 439.1 424.8 445.3 Q425 451.6 424.7 457.8 Q424.8 464 424.8 470.2 Q424.4 476.5 424.4 482.7 Q424.8 488.9 424.7 495.1 Q424.7 501.4 424 507.6" stroke-width="1.6"/>
</g>
<g fill="none" stroke="#111">
<rect x="445" y="418.8" width="44.5" height="88.8" stroke-width="1.8"/>
<path d="M446.3 427.9 Q451.6 427.6 456.9 427.3 Q462.2 427.4 467.5 427.8 Q472.7 427.5 478 428.2 Q483.3 428 488.6 428" stroke-width="1.6"/>
<path d="M446.2 435.9 Q451.5 436.4 456.8 436 Q462.1 435.9 467.4 435.9 Q472.7 436.1 478 437.1 Q483.4 437.4 488.7 435.9" stroke-width="1.6"/>
<path d="M445.9 445.8 Q451.1 445.6 456.4 445.5 Q461.6 446 466.9 446.4 Q472.1 446.7 477.4 444.9 Q482.6 445.1 487.9 445.7" stroke-width="1.6"/>
<path d="M445.7 455.1 Q451.2 455.3 456.6 455.3 Q462.1 454.8 467.6 455.7 Q473 455.9 478.5 455.6 Q484 455.8 489.4 454.7" stroke-width="1.6"/>
<path d="M445.3 465.5 Q450.5 465.3 455.8 467 Q461 467.2 466.3 467.1 Q471.5 466.9 476.8 466 Q482 466.3 487.3 466.3" stroke-width="1.6"/>
<path d="M446.3 476.6 Q451.6 476.2 456.9 477.3 Q462.2 477 467.5 476.7 Q472.8 476.3 478.1 477 Q483.4 476.6 488.6 476.6" stroke-width="1.6"/>
<path d="M447 488 Q451 487.8 455 487.2 Q459 487.1 463 487.7 Q467 488 471 486.8" stroke-width="1.6"/>
<path d="M465.6 497.5 Q467.3 497.5 469.1 497.9 Q470.8 498.1 472.5 498.3 Q474.3 498.1 476 497.7" stroke-width="1.6"/>
</g>
<path d="M480 487.4 h7 M483 497.6 h4.5" stroke="#111" stroke-width="1.3" opacity=".7"/>
<g fill="none" stroke="#111">
<rect x="382.5" y="523" width="48.7" height="88.8" stroke-width="1.8"/>
<path d="M383 529.7 Q387.6 529.7 392.2 529.1 Q396.7 529.6 401.3 529.7 Q405.9 529.3 410.4 530 Q415 530.1 419.6 530.4 Q424.1 530.5 428.7 529" stroke-width="1.6"/>
<path d="M383.2 538.9 Q387.8 538.9 392.5 538.5 Q397.1 538.4 401.7 539 Q406.4 539.3 411 537.9 Q415.6 537.7 420.3 539.3 Q424.9 539.5 429.5 538.2" stroke-width="1.6"/>
<path d="M383.1 548.2 Q387.8 547.7 392.6 548 Q397.3 548.1 402 548.1 Q406.7 547.7 411.4 548 Q416.2 548.4 420.9 548.9 Q425.6 548.7 430.3 548" stroke-width="1.6"/>
<path d="M383.8 558.8 Q388.5 558.9 393.2 559 Q397.8 559.1 402.5 559.6 Q407.2 559.3 411.8 559.4 Q416.5 559.6 421.2 559.3 Q425.9 559 430.5 559" stroke-width="1.6"/>
<path d="M383.7 566.8 Q388.4 566.9 393.1 568 Q397.8 567.5 402.6 568.1 Q407.3 568.3 412 566.9 Q416.7 567.2 421.4 566.4 Q426.1 566.9 430.9 567.1" stroke-width="1.6"/>
<path d="M383.5 575.7 Q388.1 575.6 392.6 576.5 Q397.2 576.4 401.7 575.1 Q406.3 575.5 410.8 575.7 Q415.4 575.9 419.9 576.3 Q424.5 576.2 429 576.1" stroke-width="1.6"/>
<path d="M383.1 583.9 Q387.7 583.5 392.4 584.5 Q397 584.1 401.6 584.2 Q406.3 583.9 410.9 583.5 Q415.5 583.1 420.1 583.2 Q424.8 583.4 429.4 583.6" stroke-width="1.6"/>
<path d="M383.5 592.1 Q388.1 592.1 392.6 592.7 Q397.1 592.8 401.7 592.5 Q406.2 592.7 410.7 592.6 Q415.2 592.5 419.8 592.5 Q424.3 592.5 428.8 591.7" stroke-width="1.6"/>
<path d="M382.9 601.4 Q387.7 601.8 392.5 602.3 Q397.3 602.6 402.2 602 Q407 602.1 411.8 601.5 Q416.7 601.4 421.5 602.7 Q426.3 602.9 431.1 601" stroke-width="1.6"/>
<path d="M383.4 607.9 Q388.1 608.1 392.9 608.5 Q397.6 608.4 402.4 608.2 Q407.1 608.1 411.9 608 Q416.6 607.6 421.4 608.9 Q426.1 608.7 430.9 608.8" stroke-width="1.6"/>
</g>
<g fill="none" stroke="#111">
<rect x="445" y="523" width="45" height="88.5" stroke-width="1.8"/>
<path d="M450.9 523.9 Q450.9 530 451.4 536.2 Q451.8 542.3 451.4 548.4 Q451.4 554.6 450.8 560.7 Q451.1 566.9 450.8 573 Q450.7 579.2 451.4 585.3 Q451.4 591.4 451.7 597.6 Q452.1 603.7 451.3 609.9" stroke-width="1.6"/>
<path d="M459.6 523.9 Q459.5 530.1 460.1 536.3 Q460.1 542.6 460.2 548.8 Q460.4 555 459.4 561.3 Q459.1 567.5 459.2 573.8 Q459 580 460.2 586.2 Q460.5 592.5 459.8 598.7 Q460.1 604.9 459.4 611.2" stroke-width="1.6"/>
<path d="M468 525 Q468 531.9 467.6 538.8 Q467.6 545.8 467.3 552.7 Q467.4 559.6 468.2 566.5 Q468.2 573.4 468.1 580.3 Q468 587.2 468 594.2 Q468.2 601.1 468 608" stroke-width="1.6"/>
<path d="M475.8 523.6 Q476.2 529.8 476 536 Q476.1 542.2 476.3 548.4 Q476.5 554.6 475.9 560.8 Q476 566.9 475.9 573.1 Q475.7 579.3 476 585.5 Q476.4 591.7 475.4 597.9 Q475.7 604.1 476 610.3" stroke-width="1.6"/>
<path d="M483.5 524 Q483.5 530.5 483.5 537 Q483.6 543.5 483.3 549.9 Q483.2 556.4 484 562.9 Q483.7 569.4 483.5 575.9 Q483.9 582.4 483.3 588.9 Q483.5 595.3 483.2 601.8 Q482.9 608.3 484.1 614.8" stroke-width="1.6"/>
</g>
<rect x="232.3" y="322.5" width="109" height="55.8" fill="#0a0a0a"/>
<rect x="235" y="336" width="28" height="40" fill="#fff" filter="url(#g1)"/>
<rect x="263" y="363" width="76" height="13" fill="#fff" filter="url(#g2)"/>
<rect x="263" y="337" width="76" height="26" fill="#fff" filter="url(#g3)"/>
<rect x="233" y="324" width="30" height="12" fill="#fff" filter="url(#g4)"/>
<path d="M341.3 322.5 V380.6" stroke="#111" stroke-width="1.2"/>
<rect x="350" y="288" width="31.6" height="16.6" fill="#0a0a0a"/>
<rect x="351.5" y="291.5" width="29" height="11" fill="#fff" filter="url(#g5)"/>
<path d="M381.8 287.6 V306.5" stroke="#111" stroke-width="1"/>
<path d="M171.3 528.6 H232 M176.3 605.3 H232" stroke="#111" stroke-width="1.3" fill="none"/>
<path d="M232.2 526 V607" stroke="#111" stroke-width="1.7"/>
<path d="M232 529 L176 529 L178.9 530 L182.7 531.5 L176.5 533.3 L178.8 534.9 L179.2 536.5 L178.6 537.6 L179.4 538.8 L174.9 540.2 L180 541.3 L180.8 543.1 L177.1 544.7 L177 546.2 L181.3 547.8 L177.5 548.9 L177.9 550.6 L179.5 552.1 L180.2 553.5 L178 554.7 L183.9 555.7 L178.8 556.7 L182.6 558.4 L179 559.4 L177.4 560.9 L174.7 562.5 L175.4 563.6 L181.7 564.7 L174.6 565.7 L176.1 567 L177.1 568.3 L181.7 569.4 L182.9 571.2 L181 572.3 L183.8 574.1 L179.2 575.2 L183.9 576.9 L180.4 578.6 L184.4 579.8 L188.8 581.3 L185.4 582.9 L184.7 584.7 L182.8 585.6 L185.2 587 L187.3 588 L181.1 588.9 L180.7 590.2 L185.9 592 L181.1 593 L184.3 594.6 L177.6 595.9 L180.8 596.9 L183.9 597.9 L178.2 599.3 L179.4 600.6 L176.7 601.7 L175.8 602.6 L177 605 L232 605 Z" fill="#0a0a0a"/>
<rect x="176" y="529.5" width="55" height="17" fill="#fff" filter="url(#g6)"/>
<rect x="176" y="546.5" width="55" height="30" fill="#fff" filter="url(#g7)"/>
<rect x="176" y="576.5" width="55" height="27" fill="#fff" filter="url(#g8)"/>
<rect x="368.6" y="638.2" width="26.4" height="26.2" fill="#fff" stroke="#111" stroke-width="1.2"/>
<rect x="369" y="638.6" width="25.6" height="17.4" fill="#0a0a0a"/>
<rect x="370" y="640" width="24" height="15.5" fill="#fff" filter="url(#g9)"/>
<rect x="370" y="656.5" width="24" height="7.5" fill="#111" filter="url(#g10)"/>
<rect x="476.4" y="637.4" width="29.4" height="27" fill="#0a0a0a"/>
<rect x="478" y="639.5" width="27" height="23.5" fill="#fff" filter="url(#g11)"/>
<circle cx="491" cy="651" r="5.8" fill="#0a0a0a"/>
<g stroke="#111" fill="none" stroke-width="1.4">
<path d="M232.6 674 V758.8"/>
<path d="M232.6 675.2 H319"/><path d="M319 675.2 H338" stroke-dasharray="3 2 2 3 1 2" stroke-width="0.8" opacity=".5"/>
<path d="M232.6 717 H332" stroke-width="1.05"/><path d="M332 717 H368" stroke-dasharray="7 3 3 5" stroke-width="0.9" opacity=".75"/>
<path d="M231 758.7 H320"/><path d="M320 758.5 H369" stroke-dasharray="6 2 3 3 9 2" stroke-width="1" opacity=".8"/>
</g>
<rect x="233.5" y="676" width="11" height="40.5" fill="#111" filter="url(#g12)"/>
<rect x="233.5" y="676" width="66.5" height="5.5" fill="#111" filter="url(#g13)"/>
<rect x="268" y="676" width="32" height="4.5" fill="#111" filter="url(#g14)"/>
<rect x="244" y="681" width="56" height="29" fill="#111" filter="url(#g15)"/>
<rect x="300" y="677" width="19" height="38" fill="#111" filter="url(#g16)"/>
<rect x="302" y="677" width="15" height="5" fill="#111" filter="url(#g17)"/>
<rect x="244" y="709.5" width="60" height="6.5" fill="#111" filter="url(#g18)"/>
<rect x="233.5" y="718" width="66.5" height="13" fill="#111" filter="url(#g19)"/>
<rect x="268" y="720" width="32" height="9" fill="#111" filter="url(#g20)"/>
<rect x="233.5" y="731" width="29.5" height="27.5" fill="#111" filter="url(#g21)"/>
<rect x="262.8" y="731" width="56.2" height="19.4" fill="#0a0a0a"/>
<rect x="264" y="732" width="54" height="17.5" fill="#fff" filter="url(#g22)"/>
<rect x="319" y="731.5" width="18.7" height="19" fill="#111" filter="url(#g23)"/>
<rect x="262.8" y="750.4" width="56.2" height="8" fill="#111" filter="url(#g24)"/>
<rect x="282" y="750.2" width="37" height="2.2" fill="#fff" filter="url(#g25)"/>
<g stroke="#111" fill="none" stroke-width="1.3" stroke-linejoin="round">
<path d="M368.8 665.2 H505.6 V757.6 H368.8"/>
<path d="M368.8 665.2 V690 M368.8 694 V712 M368.8 745 V757.6" stroke-width="1.1"/>
<path d="M368.8 665.2 L413.8 707.6 L465 707.6 L505.6 665.2 M413.8 707.6 L368.8 757.6 M465 707.6 L505.6 757.6" stroke-width="1.3"/>
<path d="M360 673.8 H368.8" stroke-width="1"/>
<path d="M345 716.2 H368" stroke-width="0.9" stroke-dasharray="5 3 8 4"/>
<path d="M505.2 637 V665" stroke-width="1.2"/>
</g>
<g stroke="#141414" fill="none" stroke-width=".9">
<g clip-path="url(#cTop)"><path d="M437 668.2v4.5M441.8 668.2v4.5M447.2 668.2v4.5M452.3 668.2v4.5M457.8 668.2v4.5M462.5 668.2v4.5M467.9 668.2v4.5M413.4 672.9v3.2M418.4 672.8v3.6M423.8 673.6v3.5M429.3 673.7v3.1M434.4 673.6v3.1M449.9 672.7v4.5M455.3 672.7v4.5M460.2 672.7v4.5M465.5 672.7v4.5M426.5 677.2v3M431.9 677.6v3.5M437.1 677.2v4.5M447.2 677.2v4.5M452.6 677.2v4.5M457.8 677.2v4.5M462.8 677.2v4.5M468 677.2v4.5M418.2 682.4v4M423.6 682.2v3.9M433.9 682.5v2.9M439.3 681.7v4.5M444.6 681.7v4.5M449.5 681.7v4.5M455.3 681.7v4.5M460.5 681.7v4.5M465.5 681.7v4.5M416.1 686.9v3.2M426.6 686.6v4.1M431.2 686.6v3.8M436.9 686.2v4.5M442.1 686.2v4.5M447.4 686.2v4.5M452.4 686.2v4.5M457.5 686.2v4.5M463 686.2v4.5M467.9 686.2v4.5M418.4 691.7v4.2M429.2 691.6v3M434.4 691.1v3.1M439.3 690.7v4.5M444.3 690.7v4.5M449.9 690.7v4.5M454.7 690.7v4.5M460.4 690.7v4.5M465.6 690.7v4.5M405.7 696.2v3.2M415.7 695.9v4M421.1 695.4v3.2M436.9 695.2v4.5M441.9 695.2v4.5M457.9 695.2v4.5M463 695.2v4.5M468 695.2v4.5M418.5 700.4v4.1M423.7 700.7v3.1M439.2 699.7v4.5M444.7 699.7v4.5M449.8 699.7v4.5M455.2 699.7v4.5M460.1 699.7v4.5M465.2 699.7v4.5M405.7 704.6v3.5M426.5 704.3v3.7M431.6 705v4.2M436.9 704.2v4.5M442 704.2v4.5M447.1 704.2v4.5M452.5 704.2v4.5M463 704.2v4.5M468.2 704.2v4.5"/><path d="M439.4 672.8h2.8M442 672.5h2.8M447.2 672.6h2.8M449.8 672.9h2.8M452.4 672.7h2.8M455 672.7h2.8M457.6 672.8h2.8M460.2 672.8h2.8M462.8 672.7h2.8M465.4 672.8h2.8M468 672.6h2.8M470.6 672.6h2.8M439.4 677.4h2.8M442 677.1h2.8M444.6 677.1h2.8M449.8 677.1h2.8M452.4 677h2.8M455 677.4h2.8M457.6 677.3h2.8M460.2 677.1h2.8M462.8 677.4h2.8M465.4 677.3h2.8M468 677.1h2.8M436.8 681.8h2.8M439.4 681.5h2.8M442 681.8h2.8M444.6 681.7h2.8M449.8 681.5h2.8M452.4 681.8h2.8M455 681.6h2.8M457.6 681.8h2.8M460.2 681.6h2.8M462.8 681.5h2.8M465.4 681.8h2.8M468 681.6h2.8M470.6 681.6h2.8M439.4 686.3h2.8M442 686.2h2.8M444.6 686.2h2.8M447.2 686.2h2.8M449.8 686.2h2.8M452.4 686.3h2.8M455 686.1h2.8M457.6 686.1h2.8M460.2 686.3h2.8M462.8 686.1h2.8M465.4 686.3h2.8M436.8 690.8h2.8M439.4 690.5h2.8M442 690.7h2.8M447.2 690.5h2.8M452.4 690.7h2.8M455 690.7h2.8M457.6 690.6h2.8M460.2 690.6h2.8M462.8 690.8h2.8M465.4 690.9h2.8M468 690.8h2.8M470.6 690.6h2.8M439.4 695.2h2.8M442 695.1h2.8M444.6 695.1h2.8M447.2 695.2h2.8M449.8 695.1h2.8M452.4 695.3h2.8M455 695.1h2.8M457.6 695.2h2.8M460.2 695.2h2.8M462.8 695.3h2.8M465.4 695.3h2.8M468 695.3h2.8M436.8 699.7h2.8M439.4 699.8h2.8M442 699.8h2.8M444.6 699.7h2.8M447.2 699.6h2.8M452.4 699.8h2.8M455 699.8h2.8M457.6 699.7h2.8M460.2 699.7h2.8M462.8 699.6h2.8M468 699.7h2.8M470.6 699.7h2.8M439.4 704.3h2.8M442 704.1h2.8M444.6 704.1h2.8M447.2 704.1h2.8M449.8 704.2h2.8M452.4 704.1h2.8M455 704.1h2.8M460.2 704.3h2.8M462.8 704.1h2.8M465.4 704.1h2.8M468 704.4h2.8M439.4 708.7h2.8M442 708.5h2.8M444.6 708.6h2.8M447.2 708.9h2.8M449.8 708.9h2.8M452.4 708.9h2.8M457.6 708.5h2.8M460.2 708.7h2.8M462.8 708.6h2.8M465.4 708.8h2.8M468 708.8h2.8M470.6 708.6h2.8" stroke-width=".9"/>
<path d="M450 704.5l3.3 -8.5M453.9 703.8l3 -7.9M458 704.3l4.1 -8.9M461.3 704.1l3.3 -7.5M464.5 703.8l3.9 -8.1M468.8 704.8l3.4 -9.2M472.4 703.6l3.7 -8.1M476.4 704.6l3.7 -8.4M479.7 704.1l2.8 -7.5M483.5 703.6l3 -7.5M487 705.5l3.5 -9.6M490.7 704.8l3.6 -7.8M494.4 703.6l3.7 -9.4M497.7 703.6l3.3 -7.9M501.4 705.2l3.3 -8.2M456.5 697.2l4.6 -8M460.3 697.8l3.9 -7.3M464.3 696.8l4 -7.8M468.3 696.4l4.3 -8.3M472.6 696.9l4 -8.1M476.8 696.2l4.1 -8.3M480 697.4l4.6 -9.2M483.3 697l4.3 -7.7M486.7 696.5l4.2 -9M491 697.3l4.5 -8.1M495.4 696.8l4.7 -9.6M499.2 695.9l4.8 -8.8M502.5 697l4.6 -9.7M463 688.5l4.7 -7.7M466.3 689.8l5.7 -9.5M469.6 689l6 -9.8M473.2 688.9l4.6 -7.1M476.8 688.5l4.5 -7.3M480.5 689.8l6.6 -9.9M484 688.6l4.9 -7.7M487.5 689.8l6.2 -10M491.7 689.9l6.2 -10M495.4 689.2l4.2 -7.4M499.3 688.8l6.4 -9.7M469.5 681.2l6.3 -8.2M473 682.3l7 -9M477.2 681.9l6.2 -8.2M480.7 682.5l5.6 -7.8M485.1 680.9l5.7 -8.4M488.4 681.8l5.4 -7.5M496.8 681l5.2 -7.4M500.6 682.3l6.1 -8.2M476 674.5l8.3 -9.7M479.6 674l7.8 -10M483.4 673.7l7.3 -8.5M486.8 673.9l6.4 -7.6M491.1 674.1l8 -10M495.1 674.2l6.6 -8.5M498.4 674.8l6.9 -8.9M502.1 674.4l7.6 -9.1M468.2 699l1.9 -4.4M469.1 702.4l2.5 -2.9M474.8 715.6l2.9 -3.6M470.9 708.5l3.1 -4.9M475.3 706.7l2.4 -3.9M473.8 713.1l1.7 -4.4M477 709.9l1.6 -3.2M460.7 698.7l2.1 -3.9M467.1 705.5l3.2 -4.1M466.7 701.1l3.1 -2.6M466.3 706.6l1.8 -2.9M464.2 706.4l3.4 -3.9M467.5 695.9l2.2 -4.2M471 708.9l3 -3.1M472.1 701.5l1.6 -4.3M464.8 695.9l1.6 -3.1M463 699.3l2.3 -3.5M462.5 696.5l2.4 -3.9M459.6 700.1l2.4 -4.2M467.6 701.2l2.6 -4.4M468.7 705.1l3.3 -5M458.6 696.5l2.1 -3.3M470 710.9l2.1 -3.7M471.3 703.8l2.3 -3M462 705.4l3.1 -2.7M468.1 703.6l1.9 -3.7M464.2 702.8l2 -4M472.3 708.9l3.2 -4.1M474.2 709.4l3.3 -2.9M473.6 704.9l2.9 -3.5" stroke-width="1.05"/>
</g>
<g clip-path="url(#cBot)"><path d="M417.8 708.8v3.3M428 708.7v3.2M433.5 708.2v4.5M439 708.2v4.5M443.8 708.2v4.5M449.1 708.2v4.5M454.5 708.2v4.5M459.8 708.2v4.5M464.7 708.2v4.5M415.8 713v2.6M420.7 712.7v2.6M425.5 713.7v2.8M431.4 713v2.9M435.9 712.7v4.5M441.5 712.7v4.5M446.8 712.7v4.5M452.1 712.7v4.5M457.1 712.7v4.5M461.9 712.7v4.5M467.3 712.7v4.5M407.7 718.1v3.7M428.4 717.4v3.5M433.3 717.2v4.5M439.1 717.2v4.5M443.9 717.2v4.5M449.2 717.2v4.5M454.2 717.2v4.5M464.9 717.2v4.5M415 722.3v2.9M420.5 722.6v2.5M425.8 722v3.2M430.7 721.9v3.4M436.1 721.7v4.5M441.1 721.7v4.5M446.4 721.7v4.5M452 721.7v4.5M457.2 721.7v4.5M462.5 721.7v4.5M467.6 721.7v4.5M433.6 726.2v4.5M438.7 726.2v4.5M444.1 726.2v4.5M449.1 726.2v4.5M454.4 726.2v4.5M459.3 726.2v4.5M464.5 726.2v4.5M436.3 730.7v4.5M441.7 730.7v4.5M446.9 730.7v4.5M457.1 730.7v4.5M462.3 730.7v4.5M467.5 730.7v4.5M423 735.3v3.8M433.8 735.2v4.5M438.8 735.2v4.5M444 735.2v4.5M449.2 735.2v4.5M454.5 735.2v4.5M431.1 740.1v3.5M436.4 739.7v4.5M441.5 739.7v4.5M446.5 739.7v4.5M457.3 739.7v4.5M462.4 739.7v4.5M467.4 739.7v4.5M407.6 744.3v3.2M423.2 745.2v3M428.1 744.4v2.8M439 744.2v4.5M444.1 744.2v4.5M449.3 744.2v4.5M454.6 744.2v4.5M459.7 744.2v4.5M464.9 744.2v4.5M399.4 749.7v2.7M415.3 749.4v3M420.4 748.9v3.5M436.1 748.7v4.5M441.2 748.7v4.5M451.6 748.7v4.5M456.9 748.7v4.5M462 748.7v4.5M467.5 748.7v4.5"/><path d="M433.6 712.8h2.8M436.2 712.9h2.8M438.8 712.7h2.8M444 712.8h2.8M449.2 712.6h2.8M451.8 712.6h2.8M454.4 712.7h2.8M457 712.5h2.8M459.6 712.6h2.8M462.2 712.8h2.8M464.8 712.8h2.8M467.4 712.6h2.8M436.2 717.2h2.8M438.8 717.2h2.8M444 717.1h2.8M446.6 717.3h2.8M449.2 717.4h2.8M451.8 717.3h2.8M454.4 717.4h2.8M457 717.2h2.8M459.6 717.4h2.8M462.2 717.3h2.8M464.8 717.3h2.8M470 717.1h2.8M433.6 721.8h2.8M436.2 721.7h2.8M438.8 721.6h2.8M441.4 721.6h2.8M444 721.9h2.8M446.6 721.5h2.8M449.2 721.7h2.8M451.8 721.8h2.8M454.4 721.9h2.8M457 721.6h2.8M462.2 721.8h2.8M464.8 721.6h2.8M467.4 721.9h2.8M436.2 726.3h2.8M438.8 726h2.8M441.4 726.3h2.8M444 726.2h2.8M446.6 726.4h2.8M449.2 726.3h2.8M451.8 726.2h2.8M454.4 726h2.8M457 726h2.8M459.6 726.1h2.8M462.2 726.1h2.8M464.8 726.2h2.8M470 726.2h2.8M433.6 730.6h2.8M436.2 730.8h2.8M438.8 730.7h2.8M441.4 730.7h2.8M444 730.8h2.8M446.6 730.9h2.8M449.2 730.6h2.8M451.8 730.8h2.8M454.4 730.7h2.8M457 730.7h2.8M459.6 730.5h2.8M462.2 730.7h2.8M464.8 730.6h2.8M467.4 730.8h2.8M438.8 735.1h2.8M441.4 735.3h2.8M444 735.1h2.8M446.6 735.4h2.8M451.8 735h2.8M454.4 735.3h2.8M457 735.2h2.8M459.6 735.2h2.8M462.2 735.3h2.8M464.8 735.4h2.8M467.4 735.2h2.8M470 735.2h2.8M433.6 739.5h2.8M436.2 739.8h2.8M438.8 739.7h2.8M441.4 739.6h2.8M444 739.6h2.8M449.2 739.6h2.8M451.8 739.6h2.8M454.4 739.8h2.8M457 739.6h2.8M464.8 739.8h2.8M467.4 739.6h2.8M436.2 744.1h2.8M438.8 744h2.8M441.4 744.2h2.8M444 744.4h2.8M446.6 744.1h2.8M449.2 744.3h2.8M451.8 744.4h2.8M454.4 744h2.8M459.6 744.2h2.8M464.8 744.3h2.8M467.4 744.3h2.8M470 744.3h2.8M433.6 748.7h2.8M436.2 748.8h2.8M438.8 748.6h2.8M441.4 748.7h2.8M449.2 748.6h2.8M451.8 748.7h2.8M454.4 748.7h2.8M457 748.5h2.8M459.6 748.8h2.8M464.8 748.6h2.8M467.4 748.5h2.8M436.2 753.3h2.8M438.8 753.2h2.8M441.4 753.3h2.8M444 753.3h2.8M449.2 753.1h2.8M451.8 753.3h2.8M457 753.3h2.8M459.6 753.2h2.8M462.2 753.4h2.8M464.8 753.2h2.8M467.4 753.2h2.8M470 753.3h2.8" stroke-width=".9"/></g>
<g clip-path="url(#cRgt)">
<path d="M463.8 686.7 L468 684.6 L472.1 682.6 L476.3 680.5 L480.4 678.4 L484.6 676.4 L488.8 674.3 L492.9 672.2 L497.1 670.1 L501.2 668.1 L505.4 666M463.8 689 L468 687.2 L472.1 685.3 L476.3 683.5 L480.4 681.6 L484.6 679.8 L488.8 678 L492.9 676.1 L497.1 674.3 L501.2 672.4 L505.4 670.6M463.8 691.3 L468 689.7 L472.1 688.1 L476.3 686.5 L480.4 684.9 L484.6 683.2 L488.8 681.6 L492.9 680 L497.1 678.4 L501.2 676.8 L505.4 675.2M463.8 693.6 L468 692.2 L472.1 690.8 L476.3 689.5 L480.4 688.1 L484.6 686.7 L488.8 685.3 L492.9 683.9 L497.1 682.6 L501.2 681.2 L505.4 679.8M463.8 695.9 L468 694.8 L472.1 693.6 L476.3 692.4 L480.4 691.3 L484.6 690.1 L488.8 689 L492.9 687.9 L497.1 686.7 L501.2 685.5 L505.4 684.4M463.8 698.2 L468 697.3 L472.1 696.4 L476.3 695.4 L480.4 694.5 L484.6 693.6 L488.8 692.7 L492.9 691.8 L497.1 690.8 L501.2 689.9 L505.4 689M463.8 700.5 L468 699.8 L472.1 699.1 L476.3 698.4 L480.4 697.7 L484.6 697 L488.8 696.4 L492.9 695.7 L497.1 695 L501.2 694.3 L505.4 693.6M463.8 702.8 L468 702.3 L472.1 701.9 L476.3 701.4 L480.4 701 L484.6 700.5 L488.8 700 L492.9 699.6 L497.1 699.1 L501.2 698.7 L505.4 698.2M463.8 705.1 L468 704.9 L472.1 704.6 L476.3 704.4 L480.4 704.2 L484.6 703.9 L488.8 703.7 L492.9 703.5 L497.1 703.3 L501.2 703 L505.4 702.8M463.8 707.4 L468 707.4 L472.1 707.4 L476.3 707.4 L480.4 707.4 L484.6 707.4 L488.8 707.4 L492.9 707.4 L497.1 707.4 L501.2 707.4 L505.4 707.4M463.8 709.7 L468 709.9 L472.1 710.2 L476.3 710.4 L480.4 710.6 L484.6 710.9 L488.8 711.1 L492.9 711.3 L497.1 711.5 L501.2 711.8 L505.4 712M463.8 712 L468 712.5 L472.1 712.9 L476.3 713.4 L480.4 713.8 L484.6 714.3 L488.8 714.8 L492.9 715.2 L497.1 715.7 L501.2 716.1 L505.4 716.6M463.8 714.3 L468 715 L472.1 715.7 L476.3 716.4 L480.4 717.1 L484.6 717.8 L488.8 718.4 L492.9 719.1 L497.1 719.8 L501.2 720.5 L505.4 721.2M463.8 716.6 L468 717.5 L472.1 718.4 L476.3 719.4 L480.4 720.3 L484.6 721.2 L488.8 722.1 L492.9 723 L497.1 724 L501.2 724.9 L505.4 725.8M463.8 718.9 L468 720 L472.1 721.2 L476.3 722.4 L480.4 723.5 L484.6 724.6 L488.8 725.8 L492.9 726.9 L497.1 728.1 L501.2 729.2 L505.4 730.4M463.8 721.2 L468 722.6 L472.1 724 L476.3 725.3 L480.4 726.7 L484.6 728.1 L488.8 729.5 L492.9 730.9 L497.1 732.2 L501.2 733.6 L505.4 735M463.8 723.5 L468 725.1 L472.1 726.7 L476.3 728.3 L480.4 729.9 L484.6 731.5 L488.8 733.2 L492.9 734.8 L497.1 736.4 L501.2 738 L505.4 739.6" stroke-width=".95"/><path d="M471.6 682.8L471.9 685.5M476.8 680.2L477.1 683.2M482 677.6L482.3 680.9M487.2 675.1L487.5 678.6M497.6 669.9L497.9 674M502.8 667.3L503.1 671.8M469 686.7L469.3 689.3M474.2 684.4L474.5 687.3M479.4 682.1L479.7 685.3M484.6 679.8L484.9 683.2M489.8 677.5L490.1 681.2M495 675.2L495.3 679.2M500.2 672.9L500.5 677.2M505.4 670.6L505.7 675.2M471.6 688.3L471.9 691M476.8 686.3L477.1 689.3M482 684.3L482.3 687.6M487.2 682.2L487.5 685.8M492.4 680.2L492.7 684.1M497.6 678.2L497.9 682.4M502.8 676.2L503.1 680.7M469 691.9L469.3 694.5M474.2 690.1L474.5 693M484.6 686.7L484.9 690.1M489.8 685L490.1 688.7M495 683.2L495.3 687.3M500.2 681.5L500.5 685.8M505.4 679.8L505.7 684.4M471.6 693.7L471.9 696.5M476.8 692.3L477.1 695.3M482 690.9L482.3 694.2M487.2 689.4L487.5 693M492.4 688L492.7 691.9M497.6 686.6L497.9 690.7M502.8 685.1L503.1 689.6M469 697L469.3 699.6M474.2 695.9L474.5 698.8M479.4 694.8L479.7 697.9M484.6 693.6L484.9 697M495 691.3L495.3 695.3M500.2 690.1L500.5 694.5M505.4 689L505.7 693.6M471.6 699.2L471.9 701.9M476.8 698.3L477.1 701.4M482 697.5L482.3 700.8M487.2 696.6L487.5 700.2M492.4 695.8L492.7 699.6M497.6 694.9L497.9 699.1M502.8 694L503.1 698.5M469 702.2L469.3 704.8M479.4 701.1L479.7 704.2M484.6 700.5L484.9 703.9M489.8 699.9L490.1 703.7M495 699.4L495.3 703.4M505.4 698.2L505.7 702.8M471.6 704.7L471.9 707.4M476.8 704.4L477.1 707.4M482 704.1L482.3 707.4M492.4 703.5L492.7 707.4M497.6 703.2L497.9 707.4M502.8 702.9L503.1 707.4M469 707.4L469.3 710M474.2 707.4L474.5 710.3M479.4 707.4L479.7 710.6M484.6 707.4L484.9 710.9M489.8 707.4L490.1 711.1M505.4 707.4L505.7 712M471.6 710.1L471.9 712.9M476.8 710.4L477.1 713.4M482 710.7L482.3 714M487.2 711L487.5 714.6M492.4 711.3L492.7 715.2M502.8 711.9L503.1 716.3M469 712.6L469.3 715.2M474.2 713.1L474.5 716M479.4 713.7L479.7 716.9M484.6 714.3L484.9 717.8M489.8 714.9L490.1 718.6M495 715.4L495.3 719.5M500.2 716L500.5 720.3M505.4 716.6L505.7 721.2M471.6 715.6L471.9 718.3M476.8 716.5L477.1 719.5M482 717.3L482.3 720.6M487.2 718.2L487.5 721.8M502.8 720.8L503.1 725.2M469 717.8L469.3 720.3M474.2 718.9L474.5 721.8M479.4 720L479.7 723.2M484.6 721.2L484.9 724.6M489.8 722.4L490.1 726.1M500.2 724.6L500.5 729M505.4 725.8L505.7 730.4M471.6 721.1L471.9 723.8M476.8 722.5L477.1 725.5M482 723.9L482.3 727.2M487.2 725.4L487.5 729M492.4 726.8L492.7 730.7M497.6 728.2L497.9 732.4M469 722.9L469.3 725.5M474.2 724.6L474.5 727.5M479.4 726.4L479.7 729.5M484.6 728.1L484.9 731.5M489.8 729.8L490.1 733.6M495 731.5L495.3 735.6M500.2 733.3L500.5 737.6M505.4 735L505.7 739.6M476.8 728.5L477.1 731.5M482 730.5L482.3 733.9M487.2 732.6L487.5 736.1M492.4 734.6L492.7 738.4M497.6 736.6L497.9 740.8M502.8 738.6L503.1 743"/>
</g>
<path d="M463.8 707.4 L484 686.5 M463.8 707.4 L481 727.5" stroke-width="2.6" stroke-linecap="round"/>
<path d="M452 707.4 H463.8" stroke-width="2"/>
</g>
<rect x="372" y="668" width="58" height="86" fill="#333" filter="url(#g26)"/>
<text class="lb" x="526" y="298.3" textLength="64.6" lengthAdjust="spacing">Glacière</text>
<text class="lb" x="124.6" y="446.8" textLength="70.8" lengthAdjust="spacing" xml:space="preserve">terrain A</text>
<text class="lb" x="524.6" y="531.3" textLength="70.6" lengthAdjust="spacing" xml:space="preserve">terrain C</text>
<text class="lb" x="337" y="785.3" textLength="23.8" lengthAdjust="spacing">rue</text>
<text class="lb" x="377.3" y="784.3" textLength="53.8" lengthAdjust="spacing">Royale</text>
<text class="lb" x="315.3" y="816.3" textLength="63.6" lengthAdjust="spacing">échelle:</text>
<text class="lb" x="383.6" y="816.3" textLength="16" lengthAdjust="spacing">1"</text>
<text class="lb" x="404.4" y="816.6" textLength="11.4" lengthAdjust="spacingAndGlyphs">=</text>
<text class="lb" x="421" y="816.3" textLength="19.2" lengthAdjust="spacing">20</text>
<text class="lb" x="452" y="816.3" textLength="39.2" lengthAdjust="spacing">pieds</text>
<path d="M556.3 172.6 L601 251.5" stroke="#0a0a0a" stroke-width="2.6" stroke-linecap="round" fill="none"/>
<path d="M606.8 262.8 L596.6 252.2 L603.2 248.4 Z" fill="#0a0a0a" stroke="#0a0a0a" stroke-width="1" stroke-linejoin="round"/>
<text class="lb" font-size="14" text-anchor="middle" transform="translate(611.8 271.7) rotate(150) scale(.84 1)" x="0" y="5.7" style="font-size:16px">N</text>
<g transform="rotate(-0.75 312 837.4)">
<rect x="312.4" y="835.4" width="177" height="4.5" fill="#fff" stroke="#111" stroke-width="1.1"/>
<rect x="334.4" y="835.4" width="22.8" height="4.5" fill="#0a0a0a"/>
<rect x="377.3" y="835.4" width="24.2" height="4.5" fill="#0a0a0a"/>
</g>
<g fill="#222">
<ellipse cx="544.3" cy="994.6" rx="1.3" ry=".9"/>
<circle cx="117.5" cy="558" r=".9"/>
<circle cx="199.5" cy="88.6" r=".5" fill="#888"/>
<circle cx="148" cy="1150" r=".5" fill="#aaa"/>
</g>
</svg>
</body></html>
